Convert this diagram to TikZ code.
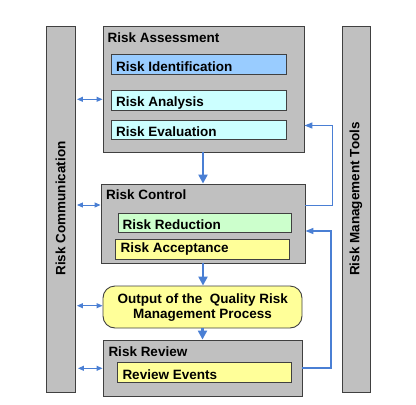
\documentclass[tikz,border=0pt]{standalone}
\usepackage{fontspec}
\setmainfont{Liberation Sans}
\usetikzlibrary{arrows.meta}
\definecolor{arrblue}{HTML}{4A7FD4}
\definecolor{boxgray}{HTML}{C0C0C0}
\definecolor{edgegray}{HTML}{404040}
\definecolor{identblue}{HTML}{99CCFF}
\definecolor{lcyan}{HTML}{CCFFFF}
\definecolor{lgreen}{HTML}{CCFFCC}
\definecolor{lyellow}{HTML}{FFFF99}
\tikzset{
  x=1pt, y=-1pt,
  graybox/.style={draw=edgegray, fill=boxgray, line width=0.9pt, inner sep=0pt},
  innerbox/.style={draw=edgegray, line width=0.9pt, inner sep=0pt},
  lbl/.style={font=\fontsize{13.5}{15.6}\selectfont\bfseries, inner sep=0pt, anchor=base west},
  mainarrow/.style={draw=arrblue, line width=2.2pt, -{Triangle[length=9pt,width=9pt]}},
  fbarrow/.style={draw=arrblue, line width=1.3pt, -{Triangle[length=8pt,width=6pt]}},
  dblarrow/.style={draw=arrblue, line width=1pt, {Triangle[length=6pt,width=5pt]}-{Triangle[length=6pt,width=5pt]}},
}
\begin{document}
\begin{tikzpicture}
\useasboundingbox (0,0) rectangle (416,405);
% side bars
\node[graybox, minimum width=29pt, minimum height=366pt] (comm) at (60.5,209) {};
\node[lbl, anchor=center, rotate=90] (commT) at (60.5,208.5) {Risk Communication};
\node[graybox, minimum width=28pt, minimum height=366pt] (tools) at (356,209) {};
\node[lbl, anchor=center, rotate=90] (toolsT) at (356,199) {Risk Management Tools};
% risk assessment
\node[graybox, minimum width=201pt, minimum height=126pt] (assess) at (203.5,89) {};
\node[lbl] (assessT) at (107.5,42.7) {Risk Assessment};
\node[innerbox, fill=identblue, minimum width=175pt, minimum height=20pt] (ident) at (198.5,64) {};
\node[lbl] (identT) at (116,71) {Risk Identification};
\node[innerbox, fill=lcyan, minimum width=175pt, minimum height=20pt] (analysis) at (199,100) {};
\node[lbl] (analysisT) at (116,106) {Risk Analysis};
\node[innerbox, fill=lcyan, minimum width=175pt, minimum height=19.5pt] (evalb) at (199,129.75) {};
\node[lbl] (evalT) at (116,136) {Risk Evaluation};
% risk control
\node[graybox, minimum width=204pt, minimum height=79pt] (control) at (203,223.5) {};
\node[lbl] (controlT) at (106,199) {Risk Control};
\node[innerbox, fill=lgreen, minimum width=173pt, minimum height=19pt] (reduct) at (204.5,222.5) {};
\node[lbl] (reductT) at (122.5,229) {Risk Reduction};
\node[innerbox, fill=lyellow, minimum width=174pt, minimum height=20pt] (accept) at (202,249) {};
\node[lbl] (acceptT) at (120.5,252.3) {Risk Acceptance};
% output
\node[innerbox, fill=lyellow, rounded corners=12pt, minimum width=199pt, minimum height=42pt] (output) at (202.5,307) {};
\node[lbl, anchor=base] (outT1) at (202.8,303) {Output of the\ \ Quality Risk};
\node[lbl, anchor=base] (outT2) at (202.5,318.6) {Management Process};
% risk review
\node[graybox, minimum width=199pt, minimum height=56pt] (review) at (202.5,368) {};
\node[lbl] (reviewT) at (108.3,356.7) {Risk Review};
\node[innerbox, fill=lyellow, minimum width=174.5pt, minimum height=20pt] (events) at (204.25,372) {};
\node[lbl] (eventsT) at (122.3,379) {Review Events};
% main flow
\draw[mainarrow] (assess.south -| control.north) -- (control.north);
\draw[mainarrow] (control.south) -- (output.north -| control.south);
\draw[mainarrow] (output.south) -- (review.north);
% feedback loops
\coordinate (fb1a) at (332.5,205.5);
\coordinate (fb1b) at (332.5,125.5);
\draw[fbarrow] (control.east |- fb1a) -- (fb1a) -- (fb1b) -- (assess.east |- fb1b);
\coordinate (fb2a) at (331,368);
\coordinate (fb2b) at (331,231);
\draw[fbarrow] (review.east |- fb2a) -- (fb2a) -- (fb2b) -- (control.east |- fb2b);
% communication arrows
\draw[dblarrow] (comm.east |- 0,99.3) ++(1.5,0) -- (assess.west |- 0,99.3);
\draw[dblarrow] (comm.east |- 0,205) ++(1.5,0) -- (control.west |- 0,205);
\draw[dblarrow] (comm.east |- 0,305.7) ++(1.5,0) -- (output.west |- 0,305.7);
\draw[dblarrow] (comm.east |- 0,368.3) ++(2.5,0) -- (review.west |- 0,368.3);
\end{tikzpicture}
\end{document}
